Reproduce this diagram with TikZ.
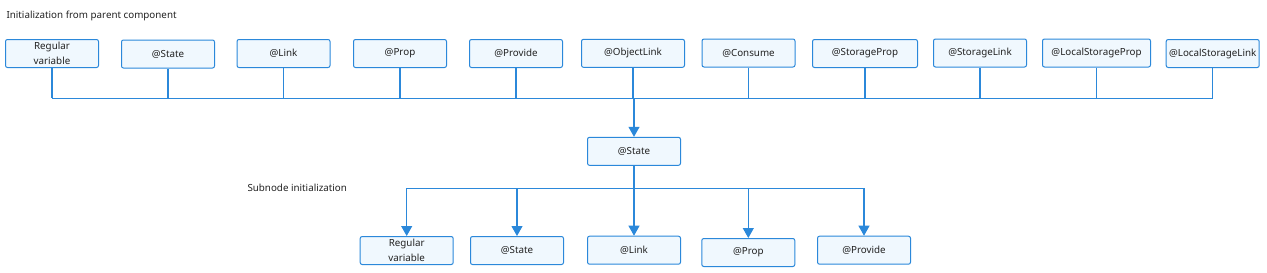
\documentclass[tikz,border=0pt]{standalone}
\usepackage{fontspec}
\setmainfont{Noto Sans}
\usetikzlibrary{arrows.meta}

\definecolor{boxblue}{HTML}{2B88DA}
\definecolor{boxfill}{HTML}{F0F8FE}
\definecolor{txtgray}{HTML}{222222}

\tikzset{
    varbox/.style={draw=boxblue, fill=boxfill, rounded corners=2pt, line width=1pt,
        minimum width=93pt, minimum height=28pt, inner sep=1pt,
        align=center, text=txtgray, font=\fontsize{9.8}{14.5}\selectfont},
    link/.style={draw=boxblue, line width=1.1pt},
    flow/.style={link, -{Triangle[width=11pt,length=10pt]}},
    caption/.style={anchor=west, text=txtgray, font=\fontsize{9.8}{12}\selectfont}
}

\begin{document}
\begin{tikzpicture}[x=1pt, y=-1pt]
    \useasboundingbox (0,0) rectangle (1267,273);

    % captions
    \node[caption] (toptitle) at (3,15.5) {Initialization from parent component};
    \node[caption] (subtitle) at (244,188) {Subnode initialization};

    % parent component variables
    \node[varbox] (p1) at (52,53.5) {Regular\\variable};
    \node[varbox] (p2) at (168,54) {@State};
    \node[varbox] (p3) at (283.5,53.5) {@Link};
    \node[varbox] (p4) at (400,53.5) {@Prop};
    \node[varbox] (p5) at (516,53.5) {@Provide};
    \node[varbox, minimum width=103pt] (p6) at (633,53.3) {@ObjectLink};
    \node[varbox] (p7) at (748.5,53) {@Consume};
    \node[varbox, minimum width=105pt] (p8) at (865,53.5) {@StorageProp};
    \node[varbox] (p9) at (980,53) {@StorageLink};
    \node[varbox, minimum width=108pt] (p10) at (1096.5,53) {@LocalStorageProp};
    \node[varbox] (p11) at (1212.7,53.5) {@LocalStorageLink};

    % the @State of the component
    \node[varbox] (state) at (634,151.3) {@State};

    % subnode variables
    \node[varbox] (c1) at (406.7,250.5) {Regular\\variable};
    \node[varbox] (c2) at (517,250.5) {@State};
    \node[varbox] (c3) at (634,250.2) {@Link};
    \node[varbox] (c4) at (748.3,252.5) {@Prop};
    \node[varbox] (c5) at (864,250.2) {@Provide};

    % upper bus
    \coordinate (busL) at (p1.south |- 0,98.3);
    \coordinate (busR) at (p11.south |- 0,98.3);
    \draw[link] (busL) -- (busR);
    \foreach \i in {1,...,11}
        \draw[link] (p\i.south) -- (p\i.south |- busL);
    \draw[flow] (state.north |- busL) -- (state.north);

    % lower bus
    \coordinate (subL) at (c1.north |- 0,188.3);
    \coordinate (subR) at (c5.north |- 0,188.3);
    \draw[link] (subL) -- (subR);
    \draw[link] (state.south) -- (state.south |- subL);
    \foreach \i in {1,...,5}
        \draw[flow] (c\i.north |- subL) -- (c\i.north);
\end{tikzpicture}
\end{document}
